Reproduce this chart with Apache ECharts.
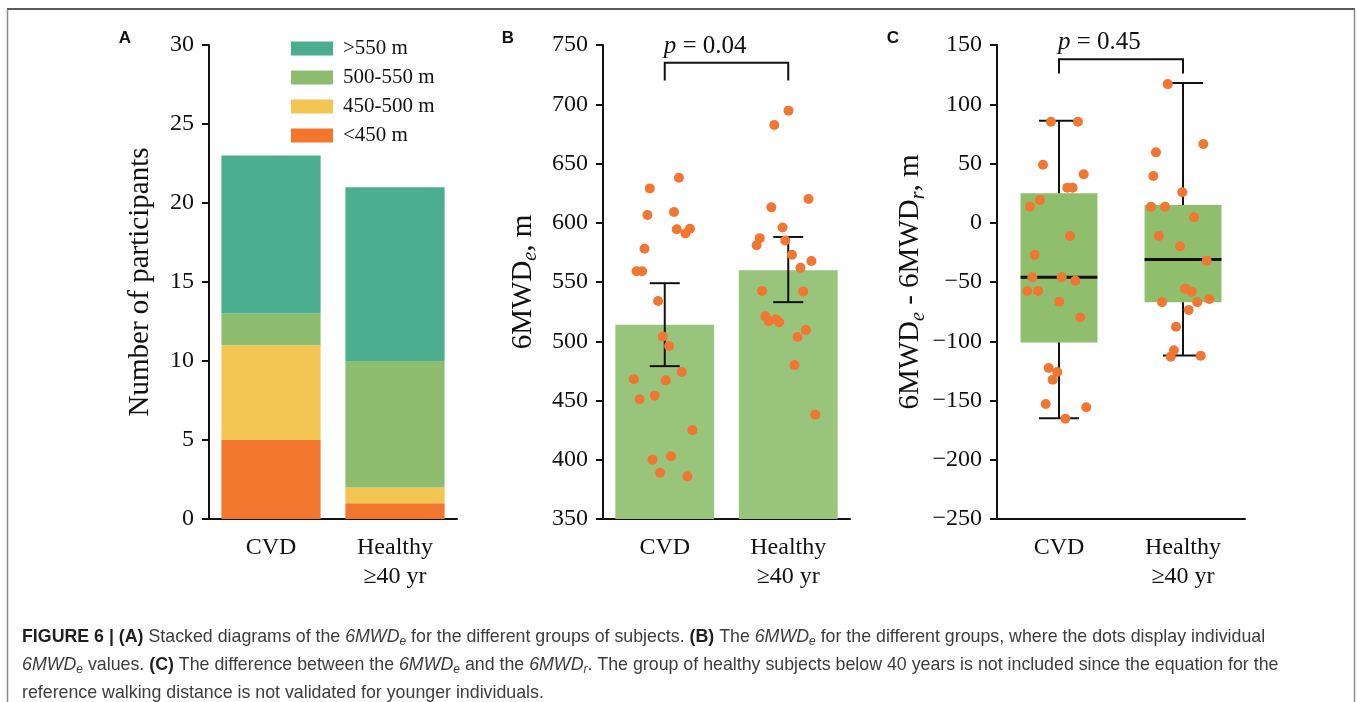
<!DOCTYPE html>
<html>
<head>
<meta charset="utf-8">
<script src="https://cdn.jsdelivr.net/npm/echarts@6/dist/echarts.min.js"></script>
<style>
  html, body { margin: 0; padding: 0; background: #fff; }
  #chart { width: 1357px; height: 702px; }
</style>
</head>
<body>
<div id="chart"></div>
<script>
// groups on every x axis
const groups = ['CVD', 'Healthy\n≥40 yr'];

// A: stacked counts per distance bin, bottom to top
const binNames = ['<450 m', '450-500 m', '500-550 m', '>550 m'];
const binColors = ['#f2762e', '#f3c552', '#8fbd6f', '#4aae8f'];
const binCounts = [[5, 1], [6, 1], [2, 8], [10, 11]];
const legendOrder = ['>550 m', '500-550 m', '450-500 m', '<450 m'];

// B: mean 6MWDe with error bars + individual values [jitter, value]
const meanB = [514, 560];
const errB = [[0, 479, 549], [1, 533, 588]];
const dotsB = [
  [0.379, 629], [0.615, 638], [0.360, 606.5], [0.575, 609], [0.597, 594.5], [0.667, 591],
  [0.704, 595], [0.336, 578], [0.272, 559], [0.317, 559], [0.446, 534], [0.484, 504],
  [0.535, 496], [0.250, 468], [0.508, 467], [0.637, 474], [0.296, 451], [0.419, 454],
  [0.723, 425], [0.401, 400], [0.551, 403], [0.462, 389], [0.683, 386],
  [1.502, 694.6], [1.387, 682.5], [1.664, 620], [1.363, 613], [1.454, 596], [1.269, 587],
  [1.244, 581], [1.476, 585], [1.530, 573], [1.688, 567.7], [1.599, 562], [1.288, 542.4],
  [1.621, 542], [1.315, 521], [1.341, 517], [1.401, 518.5], [1.427, 516], [1.643, 509.5],
  [1.575, 503.6], [1.551, 480], [1.718, 438]
];
const bracketB = [[0, 1, 735, 720]];

// C: box of 6MWDe - 6MWDr [group, min, q1, median, q3, max] + individual values
const boxC = [[0, -165, -101, -46, 25, 86], [1, -112, -67, -31, 15, 118]];
const dotsC = [
  [0.435, 85.3], [0.653, 85.3], [0.371, 49], [0.699, 41], [0.567, 29.6], [0.610, 29.6],
  [0.347, 19.2], [0.266, 13.6], [0.589, -11.2], [0.304, -27.2], [0.285, -46], [0.522, -46],
  [0.631, -48.9], [0.244, -57.6], [0.331, -57.6], [0.502, -66.6], [0.672, -80], [0.417, -122.6],
  [0.486, -126], [0.449, -132.4], [0.393, -153], [0.720, -155.7], [0.551, -165.3],
  [1.377, 117], [1.664, 66.5], [1.282, 59.4], [1.261, 39.5], [1.494, 25.7], [1.242, 13.6],
  [1.355, 13.6], [1.589, 4.6], [1.306, -11.2], [1.476, -19.9], [1.691, -32], [1.518, -55.6],
  [1.570, -58.2], [1.615, -67], [1.712, -64.3], [1.331, -67], [1.546, -73.6], [1.444, -87.7],
  [1.427, -107.6], [1.401, -113], [1.643, -112.2]
];
const bracketC = [[0, 1, 138, 126]];

const pLabels = ['0.04', '0.45'];

const SERIF = '"Liberation Serif", "DejaVu Serif", serif';
const SANS = '"Liberation Sans", Arial, sans-serif';
const INK = '#111';
const ORANGE = '#f07632';

const chart = echarts.init(document.getElementById('chart'));

const axisLine = { lineStyle: { color: INK, width: 2 } };
const axisTick = { length: 7, lineStyle: { color: INK, width: 2 } };
const tickLabel = { fontFamily: SERIF, fontSize: 24, color: INK };

function catAxis(grid) {
  return {
    type: 'category', gridIndex: grid, data: groups,
    axisLine: { ...axisLine, onZero: false }, axisTick: { ...axisTick, alignWithLabel: true },
    axisLabel: { ...tickLabel, margin: 14, lineHeight: 29 },
    splitLine: { show: false }
  };
}
function jitterAxis(grid) {
  return { type: 'value', gridIndex: grid, min: 0, max: 2, show: false };
}
function valAxis(grid, min, max, name, nameGap, rich) {
  return {
    type: 'value', gridIndex: grid, min, max, interval: grid === 0 ? 5 : 50,
    name, nameLocation: 'middle', nameGap,
    nameTextStyle: { fontFamily: SERIF, fontSize: 29, color: INK, rich },
    axisLine: { show: true, ...axisLine }, axisTick: { show: true, ...axisTick },
    axisLabel: { ...tickLabel, margin: 15, formatter: v => v < 0 ? '\u2212' + Math.abs(v) : String(v) },
    splitLine: { show: false }
  };
}

const subRich = {
  n: { fontFamily: SERIF, fontSize: 29, color: INK, lineHeight: 36 },
  s: { fontFamily: SERIF, fontSize: 20, fontStyle: 'italic', color: INK, lineHeight: 20, verticalAlign: 'bottom' }
};

// error bars (B)
function renderErr(params, api) {
  const lo = api.coord([api.value(0), api.value(1)]);
  const hi = api.coord([api.value(0), api.value(2)]);
  const h = 15, st = { stroke: INK, lineWidth: 2 };
  return { type: 'group', children: [
    { type: 'line', shape: { x1: lo[0], y1: lo[1], x2: hi[0], y2: hi[1] }, style: st },
    { type: 'line', shape: { x1: lo[0] - h, y1: lo[1], x2: lo[0] + h, y2: lo[1] }, style: st },
    { type: 'line', shape: { x1: hi[0] - h, y1: hi[1], x2: hi[0] + h, y2: hi[1] }, style: st }
  ]};
}

// box + whiskers (C)
function renderBox(params, api) {
  const x = api.value(0);
  const pMin = api.coord([x, api.value(1)]);
  const pQ1 = api.coord([x, api.value(2)]);
  const pMed = api.coord([x, api.value(3)]);
  const pQ3 = api.coord([x, api.value(4)]);
  const pMax = api.coord([x, api.value(5)]);
  const band = api.size([1, 0])[0];
  const hw = band * 0.31, cw = 20;
  const st = { stroke: INK, lineWidth: 2 };
  const cx = pQ1[0];
  return { type: 'group', children: [
    { type: 'rect', shape: { x: cx - hw, y: pQ3[1], width: hw * 2, height: pQ1[1] - pQ3[1] }, style: { fill: '#8fbe6c' } },
    { type: 'line', shape: { x1: cx, y1: pQ3[1], x2: cx, y2: pMax[1] }, style: st },
    { type: 'line', shape: { x1: cx, y1: pQ1[1], x2: cx, y2: pMin[1] }, style: st },
    { type: 'line', shape: { x1: cx - cw, y1: pMax[1], x2: cx + cw, y2: pMax[1] }, style: st },
    { type: 'line', shape: { x1: cx - cw, y1: pMin[1], x2: cx + cw, y2: pMin[1] }, style: st },
    { type: 'line', shape: { x1: cx - hw, y1: pMed[1], x2: cx + hw, y2: pMed[1] }, style: { stroke: INK, lineWidth: 3 } }
  ]};
}

// significance bracket with p value
function makeBracket(pText) {
  return function (params, api) {
    const a = api.coord([api.value(0), api.value(2)]);
    const b = api.coord([api.value(1), api.value(2)]);
    const foot = api.coord([api.value(0), api.value(3)]);
    const st = { stroke: INK, lineWidth: 2, fill: null };
    return { type: 'group', children: [
      { type: 'polyline', shape: { points: [[a[0], foot[1]], [a[0], a[1]], [b[0], b[1]], [b[0], foot[1]]] }, style: st },
      { type: 'text', x: a[0] - 1, y: a[1] - 4, style: {
        text: '{i|p} = ' + pText, x: 0, y: 0, align: 'left', verticalAlign: 'bottom',
        fontFamily: SERIF, fontSize: 25, fill: INK,
        rich: { i: { fontFamily: SERIF, fontSize: 25, fontStyle: 'italic', fill: INK } }
      } }
    ]};
  };
}

const series = [];
binNames.forEach((name, i) => {
  series.push({
    name, type: 'bar', stack: 'a', xAxisIndex: 0, yAxisIndex: 0,
    barWidth: '80%', data: binCounts[i], itemStyle: { color: binColors[i] }, silent: true
  });
});
series.push({
  type: 'bar', xAxisIndex: 1, yAxisIndex: 1, barWidth: '80%', data: meanB,
  itemStyle: { color: '#99c47b' }, silent: true
});
series.push({
  type: 'custom', xAxisIndex: 1, yAxisIndex: 1, data: errB,
  encode: { x: 0, y: [1, 2] }, renderItem: renderErr, z: 3, silent: true
});
series.push({
  type: 'scatter', xAxisIndex: 2, yAxisIndex: 1, data: dotsB, symbolSize: 10,
  itemStyle: { color: ORANGE, opacity: 1 }, z: 4, silent: true
});
series.push({
  type: 'custom', xAxisIndex: 1, yAxisIndex: 1, data: bracketB,
  encode: { x: [0, 1], y: [2, 3] }, renderItem: makeBracket(pLabels[0]), clip: false, silent: true
});
series.push({
  type: 'custom', xAxisIndex: 3, yAxisIndex: 2, data: boxC,
  encode: { x: 0, y: [1, 2, 3, 4, 5] }, renderItem: renderBox, z: 2, silent: true
});
series.push({
  type: 'scatter', xAxisIndex: 4, yAxisIndex: 2, data: dotsC, symbolSize: 10,
  itemStyle: { color: ORANGE, opacity: 1 }, z: 4, silent: true
});
series.push({
  type: 'custom', xAxisIndex: 3, yAxisIndex: 2, data: bracketC,
  encode: { x: [0, 1], y: [2, 3] }, renderItem: makeBracket(pLabels[1]), clip: false, silent: true
});

// caption text styles
const CAP = 17.8;
const capRich = {
  b: { fontFamily: SANS, fontSize: CAP, fontWeight: 'bold', fill: '#1e1e1e', lineHeight: 22 },
  t: { fontFamily: SANS, fontSize: CAP, fill: '#3c3c3c', lineHeight: 22 },
  i: { fontFamily: SANS, fontSize: CAP, fontStyle: 'italic', fill: '#3c3c3c', lineHeight: 22 },
  s: { fontFamily: SANS, fontSize: 12, fontStyle: 'italic', fill: '#3c3c3c', lineHeight: 12, verticalAlign: 'bottom' }
};
const capLines = [
  '{b|FIGURE 6 | (A)}{t| Stacked diagrams of the }{i|6MWD}{s|e}{t| for the different groups of subjects. }{b|(B)}{t| The }{i|6MWD}{s|e}{t| for the different groups, where the dots display individual}',
  '{i|6MWD}{s|e}{t| values. }{b|(C)}{t| The difference between the }{i|6MWD}{s|e}{t| and the }{i|6MWD}{s|r}{t|. The group of healthy subjects below 40 years is not included since the equation for the}',
  '{t|reference walking distance is not validated for younger individuals.}'
];
const capY = [637, 665, 693];

const graphic = [
  { type: 'line', shape: { x1: 7, y1: 9, x2: 1355, y2: 9 }, style: { stroke: '#222', lineWidth: 1.5 } },
  { type: 'line', shape: { x1: 7.5, y1: 9, x2: 7.5, y2: 702 }, style: { stroke: '#8a8a8a', lineWidth: 1.5 } },
  { type: 'line', shape: { x1: 1354.5, y1: 9, x2: 1354.5, y2: 702 }, style: { stroke: '#8a8a8a', lineWidth: 1.5 } },
  ...['A', 'B', 'C'].map((t, i) => ({
    type: 'text', x: [125, 508, 893][i], y: 38,
    style: { text: t, fontFamily: SANS, fontSize: 17, fontWeight: 'bold', fill: '#111', align: 'center', verticalAlign: 'middle' }
  })),
  ...capLines.map((line, i) => ({
    type: 'text', x: 22, y: capY[i],
    style: { text: line, rich: capRich, align: 'left', verticalAlign: 'middle' }
  }))
];

chart.setOption({
  animation: false,
  grid: [
    { left: 209, top: 45, width: 248, height: 474, outerBoundsMode: 'none' },
    { left: 603, top: 45, width: 247, height: 474, outerBoundsMode: 'none' },
    { left: 997, top: 45, width: 248, height: 474, outerBoundsMode: 'none' }
  ],
  legend: {
    data: legendOrder, orient: 'vertical', left: 286, top: 33,
    itemWidth: 42, itemHeight: 14, itemGap: 8, icon: 'rect', selectedMode: false,
    textStyle: { fontFamily: SERIF, fontSize: 21, color: INK, padding: [0, 0, 0, 5] }
  },
  xAxis: [catAxis(0), catAxis(1), jitterAxis(1), catAxis(2), jitterAxis(2)],
  yAxis: [
    valAxis(0, 0, 30, 'Number of participants', 54, {}),
    { ...valAxis(1, 350, 750, '{n|6MWD}{s|e}{n|, m}', 62, subRich) },
    { ...valAxis(2, -250, 150, '{n|6MWD}{s|e}{n| - 6MWD}{s|r}{n|, m}', 68, subRich) }
  ],
  series,
  graphic
});
</script>
</body>
</html>
